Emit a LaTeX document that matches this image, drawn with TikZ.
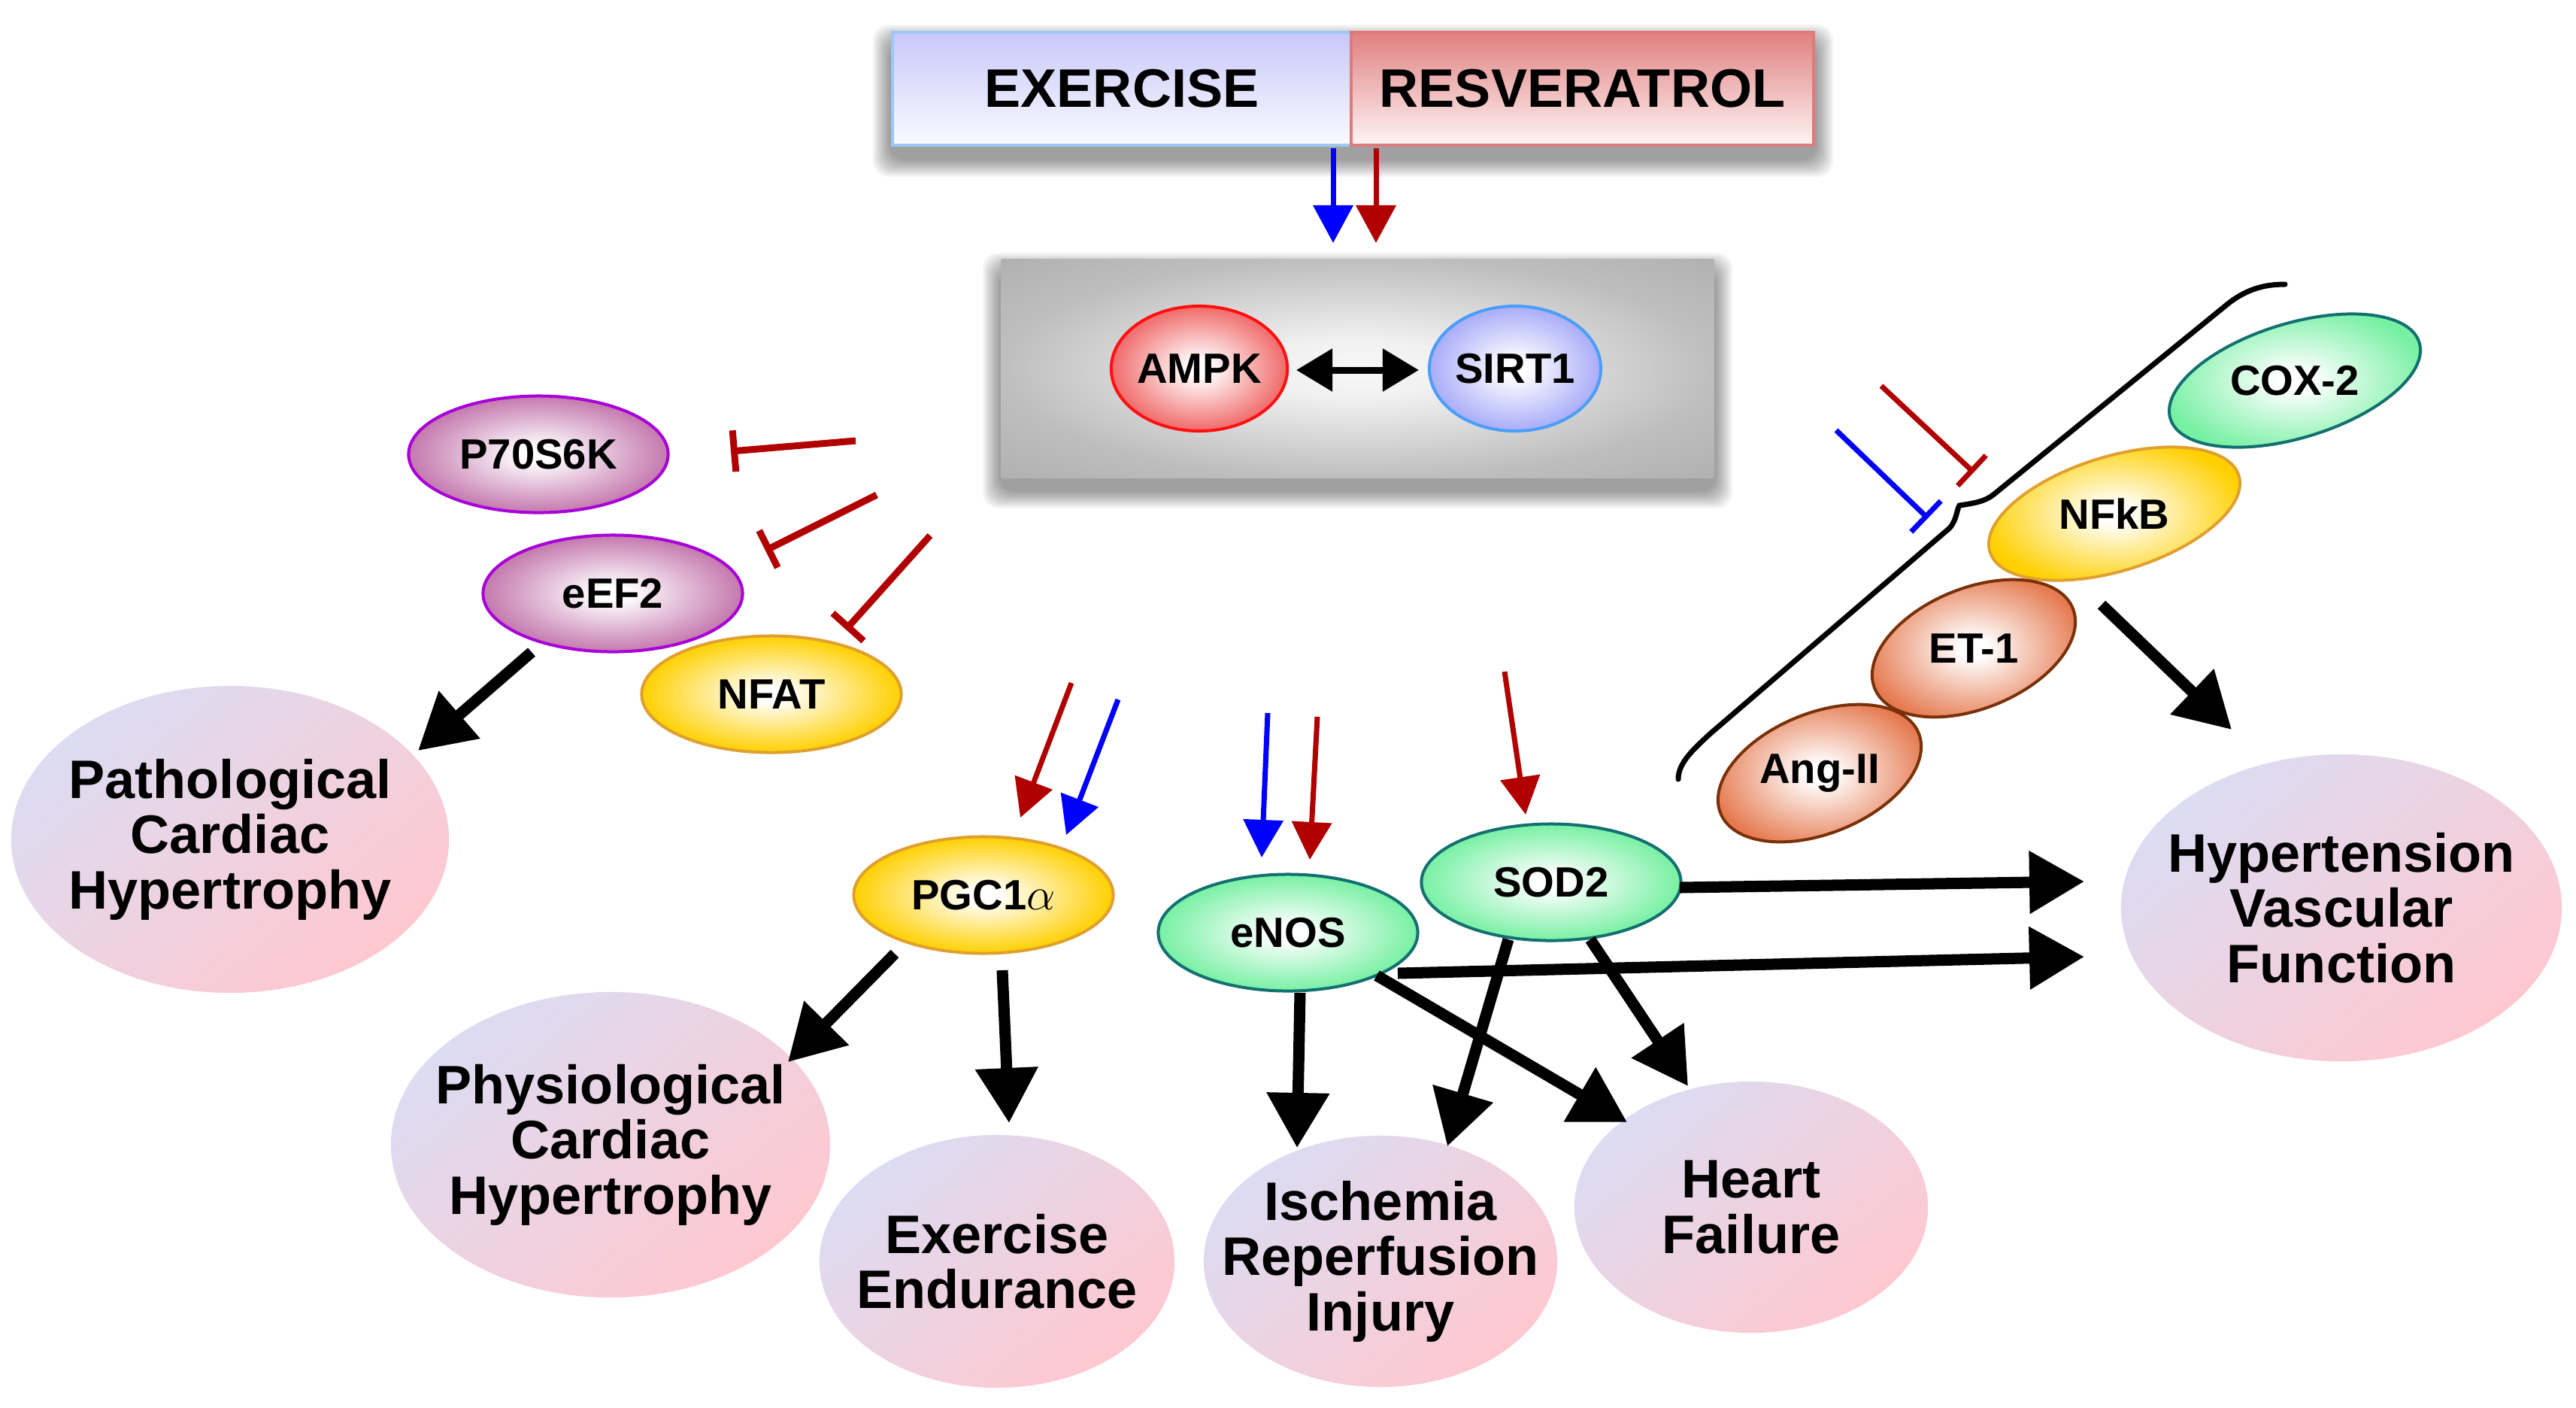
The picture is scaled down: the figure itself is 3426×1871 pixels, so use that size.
\documentclass[tikz,border=0pt]{standalone}
\usepackage{fontspec}
\setmainfont{Liberation Sans}
\usetikzlibrary{shapes.geometric,arrows.meta,calc}
\definecolor{exT}{HTML}{C8C8FA}
\definecolor{exB}{HTML}{FAFAFF}
\definecolor{exD}{HTML}{9CC8F8}
\definecolor{rsT}{HTML}{E08080}
\definecolor{rsB}{HTML}{FFF4F4}
\definecolor{rsD}{HTML}{E07A7A}
\definecolor{ampkO}{HTML}{F06A6A}
\definecolor{ampkD}{HTML}{FF1010}
\definecolor{sirtO}{HTML}{A8ACF8}
\definecolor{sirtD}{HTML}{4A9EF8}
\definecolor{mauO}{HTML}{C478AE}
\definecolor{mauD}{HTML}{A800D8}
\definecolor{golO}{HTML}{FFD000}
\definecolor{golD}{HTML}{E0A030}
\definecolor{grnO}{HTML}{78F0A4}
\definecolor{grnD}{HTML}{127070}
\definecolor{orgO}{HTML}{E57A50}
\definecolor{orgD}{HTML}{7A3008}
\definecolor{lavc}{HTML}{DCDCF2}
\definecolor{pnkc}{HTML}{FFC8D0}
\definecolor{arrR}{HTML}{B00000}
\definecolor{arrB}{HTML}{0000FF}
\definecolor{gryA}{HTML}{F8F8F8}
\definecolor{gryB}{HTML}{F0F0F0}
\definecolor{gryC}{HTML}{BEBEBE}
\definecolor{gryD}{HTML}{B0B0B0}
\pgfdeclareradialshading{ampkball}{\pgfpointorigin}{color(0bp)=(white);color(3bp)=(white);color(25bp)=(ampkO);color(50bp)=(ampkO)}
\pgfdeclareradialshading{sirtball}{\pgfpointorigin}{color(0bp)=(white);color(3bp)=(white);color(25bp)=(sirtO);color(50bp)=(sirtO)}
\pgfdeclareradialshading{mauball}{\pgfpointorigin}{color(0bp)=(white);color(3bp)=(white);color(25bp)=(mauO);color(50bp)=(mauO)}
\pgfdeclareradialshading{golball}{\pgfpointorigin}{color(0bp)=(white);color(3bp)=(white);color(25bp)=(golO);color(50bp)=(golO)}
\pgfdeclareradialshading{grnball}{\pgfpointorigin}{color(0bp)=(white);color(3bp)=(white);color(25bp)=(grnO);color(50bp)=(grnO)}
\pgfdeclareradialshading{orgball}{\pgfpointorigin}{color(0bp)=(white);color(3bp)=(white);color(25bp)=(orgO);color(50bp)=(orgO)}
\pgfdeclareradialshading{grayglow}{\pgfpointorigin}{color(0bp)=(gryA);color(7bp)=(gryB);color(25bp)=(gryC);color(36bp)=(gryD);color(50bp)=(gryD)}
\pgfdeclarelayer{back}
\pgfdeclarelayer{bg}
\pgfsetlayers{back,bg,main}
\tikzset{
  bigfont/.style={font=\fontsize{20.5}{20.9}\selectfont\bfseries},
  smallfont/.style={font=\fontsize{16}{17}\selectfont\bfseries},
  topbox/.style={rectangle, bigfont, minimum height=1.5cm, inner sep=0pt, line width=0.04cm},
  molec/.style={ellipse, smallfont, inner sep=0pt, line width=0.04cm, shade, minimum width=3.45cm, minimum height=1.55cm},
  outcome/.style={ellipse, inner sep=0pt, top color=lavc, bottom color=pnkc, shading angle=40},
  otext/.style={bigfont, align=center, inner sep=0pt},
  big/.style={color=black, line width=0.15cm, -{Triangle[length=0.73cm,width=0.8cm]}},
  thinR/.style={color=arrR, line width=0.07cm, -{Triangle[length=0.5cm,width=0.52cm]}},
  thinB/.style={color=arrB, line width=0.07cm, -{Triangle[length=0.5cm,width=0.52cm]}},
  inhR/.style={color=arrR, line width=0.09cm, -{Bar[width=0.55cm]}},
  inhRt/.style={color=arrR, line width=0.07cm, -{Bar[width=0.55cm]}},
  inhBt/.style={color=arrB, line width=0.07cm, -{Bar[width=0.57cm]}},
  dbl/.style={color=black, line width=0.09cm, {Triangle[length=0.48cm,width=0.55cm]}-{Triangle[length=0.48cm,width=0.55cm]}},
  shadowlayer/.style={fill=black, opacity=0.045}
}
\begin{document}
\begin{tikzpicture}[x=0.01cm,y=-0.01cm]
\begin{pgfonlayer}{back}
\fill[white] (0,0) rectangle (3426,1871);
\end{pgfonlayer}
\useasboundingbox (0,0) rectangle (3426,1871);

% top box
\node[topbox, minimum width=6.1cm, top color=exT, bottom color=exB, draw=exD] (exer) at (1492,118) {EXERCISE};
\node[topbox, minimum width=6.15cm, top color=rsT, bottom color=rsB, draw=rsD] (resv) at (2104.5,118) {RESVERATROL};

% gray box
\node[rectangle, minimum width=9.47cm, minimum height=2.9cm, shade, shading=grayglow] (gbox) at (1805.5,490) {};
\node[ellipse, smallfont, inner sep=0pt, line width=0.04cm, shade, shading=ampkball, draw=ampkD, minimum width=2.28cm, minimum height=1.66cm] (ampk) at (1595,490) {AMPK};
\node[ellipse, smallfont, inner sep=0pt, line width=0.04cm, shade, shading=sirtball, draw=sirtD, minimum width=2.28cm, minimum height=1.66cm] (sirt) at (2015,490) {SIRT1};

% soft shadows
\begin{pgfonlayer}{bg}
\foreach \k in {1,...,10}{
  \fill[shadowlayer, rounded corners=6pt] ($(exer.north west)+(-\k*2.4,-\k*2.4+16)$) rectangle ($(resv.south east)+(\k*2.4,\k*2.4+16)$);
  \fill[shadowlayer, rounded corners=6pt] ($(gbox.north west)+(-\k*2.4,-\k*2.4+16)$) rectangle ($(gbox.south east)+(\k*2.4,\k*2.4+16)$);
}
\end{pgfonlayer}

% molecules
\node[molec, shading=mauball, draw=mauD] (p70) at (716,604) {P70S6K};
\node[molec, shading=mauball, draw=mauD] (eef) at (815,789) {eEF2};
\node[molec, shading=golball, draw=golD] (nfat) at (1026,923) {NFAT};
\node[molec, shading=golball, draw=golD] (pgc) at (1308,1190) {PGC1$\alpha$};
\node[molec, shading=grnball, draw=grnD] (enos) at (1713,1240) {eNOS};
\node[molec, shading=grnball, draw=grnD] (sod) at (2063,1173) {SOD2};
\node[molec, shading=grnball, draw=grnD, rotate=17, minimum width=3.46cm, minimum height=1.52cm] (cox) at (3052,506) {\rotatebox{-17}{COX-2}};
\node[molec, shading=golball, draw=golD, rotate=17, minimum width=3.46cm, minimum height=1.52cm] (nfkb) at (2812,683) {\rotatebox{-17}{NFkB}};
\node[molec, shading=orgball, draw=orgD, rotate=22, minimum width=2.84cm, minimum height=1.6cm] (et1) at (2625,862) {\rotatebox{-22}{ET-1}};
\node[molec, shading=orgball, draw=orgD, rotate=22, minimum width=2.84cm, minimum height=1.6cm] (ang) at (2420,1028) {\rotatebox{-22}{Ang-II}};

% outcomes
\node[outcome, minimum width=5.82cm, minimum height=4.08cm] (path) at (306,1116) {};
\node[otext] (pathT) at (path) {Pathological\\Cardiac\\Hypertrophy};
\node[outcome, minimum width=5.84cm, minimum height=4.06cm] (physio) at (812,1522) {};
\node[otext] (physioT) at (physio) {Physiological\\Cardiac\\Hypertrophy};
\node[outcome, minimum width=4.72cm, minimum height=3.36cm] (endur) at (1326,1677) {};
\node[otext] (endurT) at (endur) {Exercise\\Endurance};
\node[outcome, minimum width=4.70cm, minimum height=3.34cm] (isch) at (1836,1677) {};
\node[otext] (ischT) at (isch) {Ischemia\\Reperfusion\\Injury};
\node[outcome, minimum width=4.70cm, minimum height=3.34cm] (hf) at (2329,1605) {};
\node[otext] (hfT) at (hf) {Heart\\Failure};
\node[outcome, minimum width=5.86cm, minimum height=4.08cm] (hyp) at (3114,1207) {};
\node[otext] (hypT) at (hyp) {Hypertension\\Vascular\\Function};

% top arrows
\draw[thinB] ($(exer)+(281,79)$) -- ($(gbox)+(-32.5,-167)$);
\draw[thinR] ($(resv)+(-274.5,79)$) -- ($(gbox)+(24.5,-167)$);
\draw[dbl] ($(ampk)+(129,2)$) -- ($(sirt)+(-128,2)$);

% inhibitors left
\draw[inhR] ($(p70)+(422,-18)$) -- ($(p70)+(256,-4)$);
\draw[inhR] ($(eef)+(351,-131)$) -- ($(eef)+(203,-57)$);
\draw[inhR] ($(nfat)+(211,-211)$) -- ($(nfat)+(99,-86)$);

% activation arrows
\draw[thinR] ($(pgc)+(117,-282)$) -- ($(pgc)+(49,-103)$);
\draw[thinB] ($(pgc)+(179,-260)$) -- ($(pgc)+(110,-80)$);
\draw[thinB] ($(enos)+(-27,-292)$) -- ($(enos)+(-35,-100)$);
\draw[thinR] ($(enos)+(39,-287)$) -- ($(enos)+(29,-97)$);
\draw[thinR] ($(sod)+(-62,-280)$) -- ($(sod)+(-34,-90)$);

% brace
\coordinate (btip) at (2606,672);
\draw[line width=0.07cm, line cap=round] (3039,378) .. controls (3010,378) and (2985,385) .. (2958,408) -- (2652,657) .. controls (2640,667) and (2625,669) .. (btip) .. controls (2602,678) and (2603,690) .. (2593,702) -- (2275,975) .. controls (2250,998) and (2232,1015) .. (2232,1036);
\draw[inhRt] ($(btip)+(-104,-159)$) -- ($(btip)+(19,-44)$);
\draw[inhBt] ($(btip)+(-164,-100)$) -- ($(btip)+(-42,17)$);

% black arrows
\draw[big] ($(eef)+(-108,78)$) -- ($(path)+(250,-118)$);
\draw[big] ($(pgc)+(-118,78)$) -- ($(physio)+(236,-110)$);
\draw[big] ($(pgc)+(25,100)$) -- ($(endur)+(16,-184)$);
\draw[big] ($(sod)+(-57,76)$) -- ($(isch)+(89,-153)$);
\draw[big] ($(sod)+(52,76)$) -- ($(hf)+(-84,-161)$);
\draw[big] ($(sod)+(171,7)$) -- ($(hyp)+(-342,-35)$);
\draw[big] ($(enos)+(16,80)$) -- ($(isch)+(-111,-151)$);
\draw[big] ($(enos)+(118,57)$) -- ($(hf)+(-165,-113)$);
\draw[big] ($(enos)+(146,54)$) -- ($(hyp)+(-342,65)$);
\draw[big] ($(nfkb)+(-17,121)$) -- ($(hyp)+(-146,-237)$);
\end{tikzpicture}
\end{document}
